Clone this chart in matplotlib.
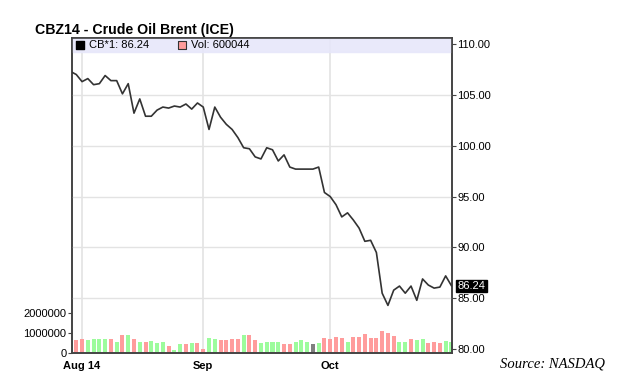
import numpy as np
import pandas as pd
import matplotlib
matplotlib.use("Agg")
import matplotlib.pyplot as plt

plt.rcParams['font.family'] = ['Liberation Sans', 'DejaVu Sans']

# trading days, Jul 30 - Oct 30 2014
dates = pd.bdate_range('2014-07-30', '2014-10-30')

# settlement prices
closes = [107.3, 107.0, 106.3, 106.6, 106.0, 106.1, 106.9, 106.4, 106.4, 105.1,
          106.1, 103.2, 104.6, 102.9, 102.9, 103.5, 103.8, 103.7, 103.9, 103.8,
          104.1, 103.6, 104.2, 103.8, 101.6, 103.8, 102.8, 102.1, 101.6, 100.8,
          99.8, 99.7, 98.9, 98.7, 99.8, 99.6, 98.5, 99.1, 97.9, 97.7,
          97.7, 97.7, 97.7, 97.9, 95.4, 95.0, 94.2, 93.0, 93.4, 92.7,
          91.9, 90.6, 90.7, 89.5, 85.5, 84.3, 85.8, 86.2, 85.5, 86.2,
          84.8, 86.9, 86.3, 86.0, 86.1, 87.2, 86.24]

# volume in millions of contracts
volumes = [0.60, 0.66, 0.71, 0.66, 0.71, 0.71, 0.71, 0.71, 0.53, 0.88,
           0.88, 0.71, 0.53, 0.53, 0.60, 0.48, 0.53, 0.36, 0.14, 0.43,
           0.43, 0.48, 0.48, 0.19, 0.76, 0.71, 0.66, 0.66, 0.71, 0.71,
           0.88, 0.88, 0.66, 0.48, 0.53, 0.53, 0.53, 0.43, 0.43, 0.53,
           0.66, 0.53, 0.43, 0.48, 0.74, 0.69, 0.79, 0.74, 0.57, 0.79,
           0.79, 0.95, 0.74, 0.73, 1.09, 1.00, 0.86, 0.57, 0.53, 0.69,
           0.66, 0.69, 0.52, 0.53, 0.48, 0.60, 0.57]

# u = up day, d = down day, n = unchanged
directions = list("udduuuududududuuuduududduuddddudduuuudduuunuddddudddddddduuduuddduuu")

tick_labels = ['Aug 14', 'Sep', 'Oct']
last_price = '86.24'
last_volume = '600044'

bar_colors = {'u': '#9cfc9c', 'd': '#ff9c9c', 'n': '#808080'}

x = np.arange(len(dates))
month_starts = [i for i in range(1, len(dates)) if dates[i].month != dates[i - 1].month]

fig = plt.figure(figsize=(6.24, 3.81), dpi=100)
ax_vol = fig.add_axes([72 / 624, 28 / 381, 380 / 624, 315 / 381])
ax = ax_vol.twinx()

# volume bars
ax_vol.bar(x, np.array(volumes) * 1e6, width=0.7,
           color=[bar_colors[d] for d in directions], zorder=2)
ax_vol.set_ylim(0, 15.75e6)
ax_vol.set_yticks([0, 1000000, 2000000])
ax_vol.set_yticklabels(['0', '1000000', '2000000'], fontsize=8)
ax_vol.set_xlim(0.26, 66.1)
ax_vol.set_xticks(month_starts)
ax_vol.set_xticklabels(tick_labels, fontsize=8, fontweight='bold')
for xs in month_starts:
    ax_vol.axvline(xs, color='#e3e3e3', lw=1.2, zorder=0)

# price line
ax.plot(x, closes, color='#333333', lw=1.2, zorder=3)
ax.set_ylim(79.62, 110.59)
ax.set_yticks([80, 85, 90, 95, 100, 105, 110])
ax.set_yticklabels(['%.2f' % v for v in [80, 85, 90, 95, 100, 105, 110]], fontsize=8)
for yv in [85, 90, 95, 100, 105]:
    ax.axhline(yv, color='#e3e3e3', lw=1.0, zorder=0)
ax.axhspan(109.2, 110.59, color='#e6e6fa', alpha=0.85, zorder=1)

for a in (ax, ax_vol):
    for s in a.spines.values():
        s.set_color('#444444')
        s.set_linewidth(1.2)
    a.tick_params(length=3, width=0.8, color='#444444', pad=1)
ax_vol.tick_params(axis='x', length=0, pad=6)

# legend strip
ax.scatter([0.022], [0.978], s=28, marker='s', color='black', transform=ax.transAxes,
           clip_on=False, zorder=5)
ax.text(0.045, 0.978, 'CB*1: ' + last_price, transform=ax.transAxes, fontsize=8,
        va='center', ha='left', zorder=5)
ax.scatter([0.29], [0.978], s=28, marker='s', facecolor='#ff9c9c', edgecolor='#333333',
           linewidths=0.8, transform=ax.transAxes, clip_on=False, zorder=5)
ax.text(0.313, 0.978, 'Vol: ' + last_volume, transform=ax.transAxes, fontsize=8,
        va='center', ha='left', zorder=5)

# last price tag
ax.annotate(last_price, xy=(1, closes[-1]), xycoords=('axes fraction', 'data'),
            xytext=(4, 0), textcoords='offset points', va='center', ha='left',
            fontsize=8, color='white',
            bbox=dict(boxstyle='square,pad=0.1', fc='black', ec='black'))

fig.text(35 / 624, 1 - 30 / 381, 'CBZ14 - Crude Oil Brent (ICE)', fontsize=10.2,
         fontweight='bold', va='center', ha='left')
fig.text(500 / 624, 1 - 364 / 381, 'Source: NASDAQ', fontsize=10.5, style='italic',
         family='Liberation Serif', va='center', ha='left')

fig.savefig('out.png', dpi=100)
